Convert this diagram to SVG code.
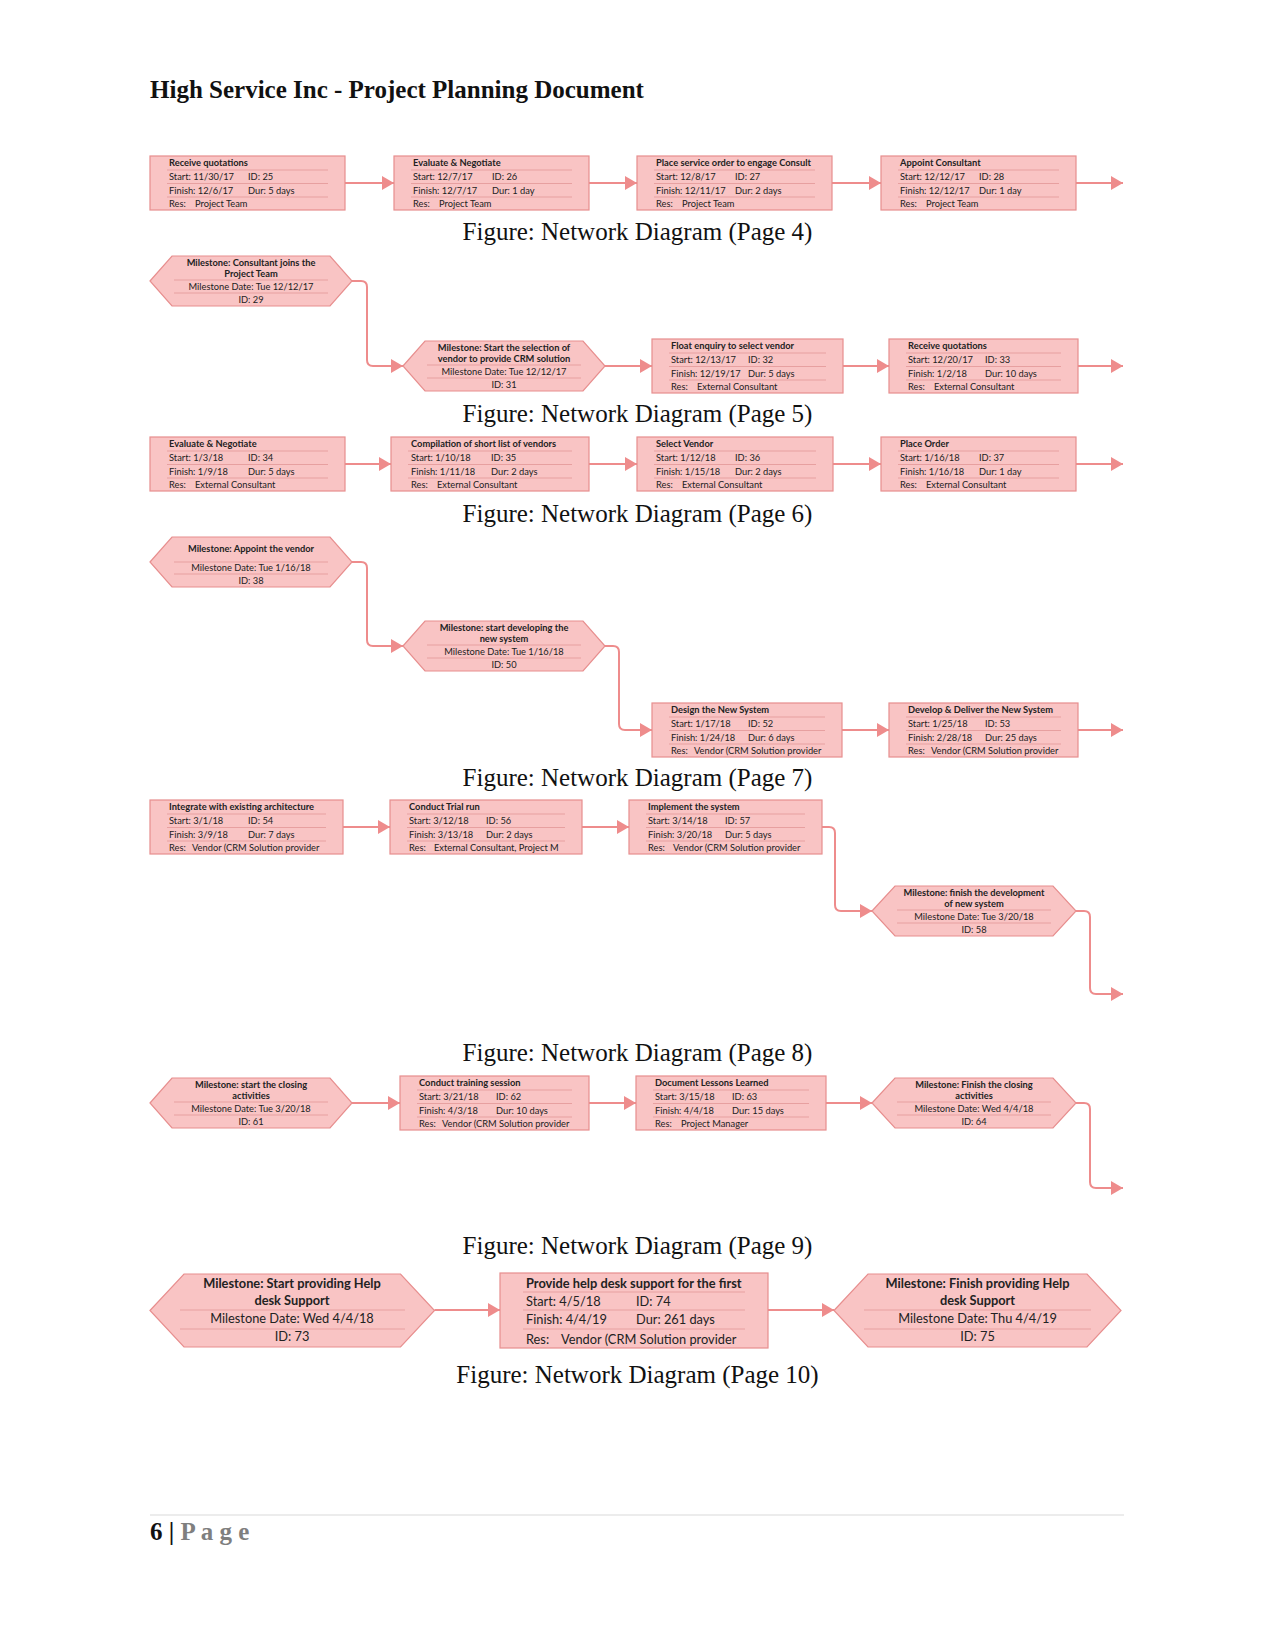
<svg xmlns="http://www.w3.org/2000/svg" width="1275" height="1650" viewBox="0 0 1275 1650">
<defs>
<marker id="ah" markerUnits="userSpaceOnUse" markerWidth="13" markerHeight="14" refX="12" refY="7" orient="auto">
<path d="M0,0 L12,7 L0,14 z" fill="#EE8C8C"/>
</marker>
<style>
.box{fill:#F9C4C4;stroke:#E78E8E;stroke-width:1.2}
.sep{fill:none;stroke:#E7A0A0;stroke-width:1}
.t{font-family:Lato,"Liberation Sans",sans-serif;font-size:9.3px;fill:#222}
.tl{font-family:Lato,"Liberation Sans",sans-serif;font-size:12.8px;fill:#222}
.b{font-weight:bold}
.m{text-anchor:middle}
.conn{fill:none;stroke:#EE8C8C;stroke-width:2;marker-end:url(#ah)}
.cap{font-family:"Liberation Serif",serif;font-size:25px;fill:#111;text-anchor:middle}
</style>
</defs>
<rect width="1275" height="1650" fill="#fff"/>
<text x="150" y="98" font-family="Liberation Serif,serif" font-size="25" font-weight="bold" fill="#111">High Service Inc - Project Planning Document</text>

<g id="connectors">
<path class="conn" d="M345,183H394"/>
<path class="conn" d="M589,183H637"/>
<path class="conn" d="M832,183H881"/>
<path class="conn" d="M1076,183H1123"/>
<path class="conn" d="M352,281H361Q367,281 367,287V360Q367,366 373,366H403"/>
<path class="conn" d="M605,366H652"/>
<path class="conn" d="M843,366H889"/>
<path class="conn" d="M1078,366H1123"/>
<path class="conn" d="M345,464H391"/>
<path class="conn" d="M589,464H637"/>
<path class="conn" d="M833,464H881"/>
<path class="conn" d="M1076,464H1123"/>
<path class="conn" d="M352,562H361Q367,562 367,568V640Q367,646 373,646H403"/>
<path class="conn" d="M605,646H613Q619,646 619,652V724Q619,730 625,730H652"/>
<path class="conn" d="M842,730H889"/>
<path class="conn" d="M1078,730H1123"/>
<path class="conn" d="M343,827H390"/>
<path class="conn" d="M582,827H629"/>
<path class="conn" d="M822,827H829Q835,827 835,833V905Q835,911 841,911H872"/>
<path class="conn" d="M1076,911H1084Q1090,911 1090,917V988Q1090,994 1096,994H1123"/>
<path class="conn" d="M352,1103H400"/>
<path class="conn" d="M589,1103H636"/>
<path class="conn" d="M826,1103H872"/>
<path class="conn" d="M1076,1103H1084Q1090,1103 1090,1109V1182Q1090,1188 1096,1188H1123"/>
<path class="conn" d="M434.5,1310H500"/>
<path class="conn" d="M768,1310H834"/>
</g>

<!-- Page 4 -->
<g id="n25" transform="translate(150,156)">
<rect class="box" width="195" height="54"/>
<path class="sep" d="M17,14H178M17,27.5H178M17,41H178"/>
<text class="t b" x="19" y="10">Receive quotations</text>
<text class="t" x="19" y="24">Start: 11/30/17</text><text class="t" x="98" y="24">ID: 25</text>
<text class="t" x="19" y="37.5">Finish: 12/6/17</text><text class="t" x="98" y="37.5">Dur: 5 days</text>
<text class="t" x="19" y="51">Res:</text><text class="t" x="45" y="51">Project Team</text>
</g>
<g id="n26" transform="translate(394,156)">
<rect class="box" width="195" height="54"/>
<path class="sep" d="M17,14H178M17,27.5H178M17,41H178"/>
<text class="t b" x="19" y="10">Evaluate &amp; Negotiate</text>
<text class="t" x="19" y="24">Start: 12/7/17</text><text class="t" x="98" y="24">ID: 26</text>
<text class="t" x="19" y="37.5">Finish: 12/7/17</text><text class="t" x="98" y="37.5">Dur: 1 day</text>
<text class="t" x="19" y="51">Res:</text><text class="t" x="45" y="51">Project Team</text>
</g>
<g id="n27" transform="translate(637,156)">
<rect class="box" width="195" height="54"/>
<path class="sep" d="M17,14H178M17,27.5H178M17,41H178"/>
<text class="t b" x="19" y="10">Place service order to engage Consult</text>
<text class="t" x="19" y="24">Start: 12/8/17</text><text class="t" x="98" y="24">ID: 27</text>
<text class="t" x="19" y="37.5">Finish: 12/11/17</text><text class="t" x="98" y="37.5">Dur: 2 days</text>
<text class="t" x="19" y="51">Res:</text><text class="t" x="45" y="51">Project Team</text>
</g>
<g id="n28" transform="translate(881,156)">
<rect class="box" width="195" height="54"/>
<path class="sep" d="M17,14H178M17,27.5H178M17,41H178"/>
<text class="t b" x="19" y="10">Appoint Consultant</text>
<text class="t" x="19" y="24">Start: 12/12/17</text><text class="t" x="98" y="24">ID: 28</text>
<text class="t" x="19" y="37.5">Finish: 12/12/17</text><text class="t" x="98" y="37.5">Dur: 1 day</text>
<text class="t" x="19" y="51">Res:</text><text class="t" x="45" y="51">Project Team</text>
</g>
<text class="cap" x="637.5" y="240">Figure: Network Diagram (Page 4)</text>

<!-- Page 5 -->
<g id="n29" transform="translate(150,256)">
<polygon class="box" points="0,25 22,0 180,0 202,25 180,50 22,50"/>
<path class="sep" d="M24,24H178M24,37H178"/>
<text class="t b m" x="101" y="9.5">Milestone: Consultant joins the</text>
<text class="t b m" x="101" y="21">Project Team</text>
<text class="t m" x="101" y="33.5">Milestone Date: Tue 12/12/17</text>
<text class="t m" x="101" y="46.5">ID: 29</text>
</g>
<g id="n31" transform="translate(403,341)">
<polygon class="box" points="0,25 22,0 180,0 202,25 180,50 22,50"/>
<path class="sep" d="M24,24H178M24,37H178"/>
<text class="t b m" x="101" y="9.5">Milestone: Start the selection of</text>
<text class="t b m" x="101" y="21">vendor to provide CRM solution</text>
<text class="t m" x="101" y="33.5">Milestone Date: Tue 12/12/17</text>
<text class="t m" x="101" y="46.5">ID: 31</text>
</g>
<g id="n32" transform="translate(652,339)">
<rect class="box" width="191" height="54"/>
<path class="sep" d="M17,14H174M17,27.5H174M17,41H174"/>
<text class="t b" x="19" y="10">Float enquiry to select vendor</text>
<text class="t" x="19" y="24">Start: 12/13/17</text><text class="t" x="96" y="24">ID: 32</text>
<text class="t" x="19" y="37.5">Finish: 12/19/17</text><text class="t" x="96" y="37.5">Dur: 5 days</text>
<text class="t" x="19" y="51">Res:</text><text class="t" x="45" y="51">External Consultant</text>
</g>
<g id="n33" transform="translate(889,339)">
<rect class="box" width="189" height="54"/>
<path class="sep" d="M17,14H172M17,27.5H172M17,41H172"/>
<text class="t b" x="19" y="10">Receive quotations</text>
<text class="t" x="19" y="24">Start: 12/20/17</text><text class="t" x="96" y="24">ID: 33</text>
<text class="t" x="19" y="37.5">Finish: 1/2/18</text><text class="t" x="96" y="37.5">Dur: 10 days</text>
<text class="t" x="19" y="51">Res:</text><text class="t" x="45" y="51">External Consultant</text>
</g>
<text class="cap" x="637.5" y="422">Figure: Network Diagram (Page 5)</text>

<!-- Page 6 -->
<g id="n34" transform="translate(150,437)">
<rect class="box" width="195" height="54"/>
<path class="sep" d="M17,14H178M17,27.5H178M17,41H178"/>
<text class="t b" x="19" y="10">Evaluate &amp; Negotiate</text>
<text class="t" x="19" y="24">Start: 1/3/18</text><text class="t" x="98" y="24">ID: 34</text>
<text class="t" x="19" y="37.5">Finish: 1/9/18</text><text class="t" x="98" y="37.5">Dur: 5 days</text>
<text class="t" x="19" y="51">Res:</text><text class="t" x="45" y="51">External Consultant</text>
</g>
<g id="n35" transform="translate(391,437)">
<rect class="box" width="198" height="54"/>
<path class="sep" d="M17,14H181M17,27.5H181M17,41H181"/>
<text class="t b" x="20" y="10">Compilation of short list of vendors</text>
<text class="t" x="20" y="24">Start: 1/10/18</text><text class="t" x="100" y="24">ID: 35</text>
<text class="t" x="20" y="37.5">Finish: 1/11/18</text><text class="t" x="100" y="37.5">Dur: 2 days</text>
<text class="t" x="20" y="51">Res:</text><text class="t" x="46" y="51">External Consultant</text>
</g>
<g id="n36" transform="translate(637,437)">
<rect class="box" width="196" height="54"/>
<path class="sep" d="M17,14H179M17,27.5H179M17,41H179"/>
<text class="t b" x="19" y="10">Select Vendor</text>
<text class="t" x="19" y="24">Start: 1/12/18</text><text class="t" x="98" y="24">ID: 36</text>
<text class="t" x="19" y="37.5">Finish: 1/15/18</text><text class="t" x="98" y="37.5">Dur: 2 days</text>
<text class="t" x="19" y="51">Res:</text><text class="t" x="45" y="51">External Consultant</text>
</g>
<g id="n37" transform="translate(881,437)">
<rect class="box" width="195" height="54"/>
<path class="sep" d="M17,14H178M17,27.5H178M17,41H178"/>
<text class="t b" x="19" y="10">Place Order</text>
<text class="t" x="19" y="24">Start: 1/16/18</text><text class="t" x="98" y="24">ID: 37</text>
<text class="t" x="19" y="37.5">Finish: 1/16/18</text><text class="t" x="98" y="37.5">Dur: 1 day</text>
<text class="t" x="19" y="51">Res:</text><text class="t" x="45" y="51">External Consultant</text>
</g>
<text class="cap" x="637.5" y="522">Figure: Network Diagram (Page 6)</text>

<!-- Page 7 -->
<g id="n38" transform="translate(150,537)">
<polygon class="box" points="0,25 22,0 180,0 202,25 180,50 22,50"/>
<path class="sep" d="M24,25H178M24,37H178"/>
<text class="t b m" x="101" y="15">Milestone: Appoint the vendor</text>
<text class="t m" x="101" y="34">Milestone Date: Tue 1/16/18</text>
<text class="t m" x="101" y="47">ID: 38</text>
</g>
<g id="n50" transform="translate(403,621)">
<polygon class="box" points="0,25 22,0 180,0 202,25 180,50 22,50"/>
<path class="sep" d="M24,24H178M24,37H178"/>
<text class="t b m" x="101" y="9.5">Milestone: start developing the</text>
<text class="t b m" x="101" y="21">new system</text>
<text class="t m" x="101" y="33.5">Milestone Date: Tue 1/16/18</text>
<text class="t m" x="101" y="46.5">ID: 50</text>
</g>
<g id="n52" transform="translate(652,703)">
<rect class="box" width="190" height="54"/>
<path class="sep" d="M17,14H173M17,27.5H173M17,41H173"/>
<text class="t b" x="19" y="10">Design the New System</text>
<text class="t" x="19" y="24">Start: 1/17/18</text><text class="t" x="96" y="24">ID: 52</text>
<text class="t" x="19" y="37.5">Finish: 1/24/18</text><text class="t" x="96" y="37.5">Dur: 6 days</text>
<text class="t" x="19" y="51">Res:</text><text class="t" x="42" y="51">Vendor (CRM Solution provider</text>
</g>
<g id="n53" transform="translate(889,703)">
<rect class="box" width="189" height="54"/>
<path class="sep" d="M17,14H172M17,27.5H172M17,41H172"/>
<text class="t b" x="19" y="10">Develop &amp; Deliver the New System</text>
<text class="t" x="19" y="24">Start: 1/25/18</text><text class="t" x="96" y="24">ID: 53</text>
<text class="t" x="19" y="37.5">Finish: 2/28/18</text><text class="t" x="96" y="37.5">Dur: 25 days</text>
<text class="t" x="19" y="51">Res:</text><text class="t" x="42" y="51">Vendor (CRM Solution provider</text>
</g>
<text class="cap" x="637.5" y="786">Figure: Network Diagram (Page 7)</text>

<!-- Page 8 -->
<g id="n54" transform="translate(150,800)">
<rect class="box" width="193" height="54"/>
<path class="sep" d="M17,14H176M17,27.5H176M17,41H176"/>
<text class="t b" x="19" y="10">Integrate with existing architecture</text>
<text class="t" x="19" y="24">Start: 3/1/18</text><text class="t" x="98" y="24">ID: 54</text>
<text class="t" x="19" y="37.5">Finish: 3/9/18</text><text class="t" x="98" y="37.5">Dur: 7 days</text>
<text class="t" x="19" y="51">Res:</text><text class="t" x="42" y="51">Vendor (CRM Solution provider</text>
</g>
<g id="n56" transform="translate(390,800)">
<rect class="box" width="192" height="54"/>
<path class="sep" d="M17,14H175M17,27.5H175M17,41H175"/>
<text class="t b" x="19" y="10">Conduct Trial run</text>
<text class="t" x="19" y="24">Start: 3/12/18</text><text class="t" x="96" y="24">ID: 56</text>
<text class="t" x="19" y="37.5">Finish: 3/13/18</text><text class="t" x="96" y="37.5">Dur: 2 days</text>
<text class="t" x="19" y="51">Res:</text><text class="t" x="44" y="51">External Consultant, Project M</text>
</g>
<g id="n57" transform="translate(629,800)">
<rect class="box" width="193" height="54"/>
<path class="sep" d="M17,14H176M17,27.5H176M17,41H176"/>
<text class="t b" x="19" y="10">Implement the system</text>
<text class="t" x="19" y="24">Start: 3/14/18</text><text class="t" x="96" y="24">ID: 57</text>
<text class="t" x="19" y="37.5">Finish: 3/20/18</text><text class="t" x="96" y="37.5">Dur: 5 days</text>
<text class="t" x="19" y="51">Res:</text><text class="t" x="44" y="51">Vendor (CRM Solution provider</text>
</g>
<g id="n58" transform="translate(872,886)">
<polygon class="box" points="0,25 23,0 181,0 204,25 181,50 23,50"/>
<path class="sep" d="M25,24H179M25,37H179"/>
<text class="t b m" x="102" y="9.5">Milestone: finish the development</text>
<text class="t b m" x="102" y="21">of new system</text>
<text class="t m" x="102" y="33.5">Milestone Date: Tue 3/20/18</text>
<text class="t m" x="102" y="46.5">ID: 58</text>
</g>
<text class="cap" x="637.5" y="1061">Figure: Network Diagram (Page 8)</text>

<!-- Page 9 -->
<g id="n61" transform="translate(150,1078)">
<polygon class="box" points="0,25 22,0 180,0 202,25 180,50 22,50"/>
<path class="sep" d="M24,24H178M24,37H178"/>
<text class="t b m" x="101" y="9.5">Milestone: start the closing</text>
<text class="t b m" x="101" y="21">activities</text>
<text class="t m" x="101" y="33.5">Milestone Date: Tue 3/20/18</text>
<text class="t m" x="101" y="46.5">ID: 61</text>
</g>
<g id="n62" transform="translate(400,1076)">
<rect class="box" width="189" height="54"/>
<path class="sep" d="M17,14H172M17,27.5H172M17,41H172"/>
<text class="t b" x="19" y="10">Conduct training session</text>
<text class="t" x="19" y="24">Start: 3/21/18</text><text class="t" x="96" y="24">ID: 62</text>
<text class="t" x="19" y="37.5">Finish: 4/3/18</text><text class="t" x="96" y="37.5">Dur: 10 days</text>
<text class="t" x="19" y="51">Res:</text><text class="t" x="42" y="51">Vendor (CRM Solution provider</text>
</g>
<g id="n63" transform="translate(636,1076)">
<rect class="box" width="190" height="54"/>
<path class="sep" d="M17,14H173M17,27.5H173M17,41H173"/>
<text class="t b" x="19" y="10">Document Lessons Learned</text>
<text class="t" x="19" y="24">Start: 3/15/18</text><text class="t" x="96" y="24">ID: 63</text>
<text class="t" x="19" y="37.5">Finish: 4/4/18</text><text class="t" x="96" y="37.5">Dur: 15 days</text>
<text class="t" x="19" y="51">Res:</text><text class="t" x="45" y="51">Project Manager</text>
</g>
<g id="n64" transform="translate(872,1078)">
<polygon class="box" points="0,25 23,0 181,0 204,25 181,50 23,50"/>
<path class="sep" d="M25,24H179M25,37H179"/>
<text class="t b m" x="102" y="9.5">Milestone: Finish the closing</text>
<text class="t b m" x="102" y="21">activities</text>
<text class="t m" x="102" y="33.5">Milestone Date: Wed 4/4/18</text>
<text class="t m" x="102" y="46.5">ID: 64</text>
</g>
<text class="cap" x="637.5" y="1254">Figure: Network Diagram (Page 9)</text>

<!-- Page 10 -->
<g id="n73" transform="translate(150,1274)">
<polygon class="box" points="0,36.5 34,0 250.5,0 284.5,36.5 250.5,73 34,73"/>
<path class="sep" d="M30,36H255M30,55H255"/>
<text class="tl b m" x="142" y="13.5">Milestone: Start providing Help</text>
<text class="tl b m" x="142" y="30.5">desk Support</text>
<text class="tl m" x="142" y="49">Milestone Date: Wed 4/4/18</text>
<text class="tl m" x="142" y="67">ID: 73</text>
</g>
<g id="n74" transform="translate(500,1273)">
<rect class="box" width="268" height="75"/>
<path class="sep" d="M23,19H245M23,37H245M23,56H245"/>
<text class="tl b" x="26" y="14.5">Provide help desk support for the first</text>
<text class="tl" x="26" y="32.5">Start: 4/5/18</text><text class="tl" x="136" y="32.5">ID: 74</text>
<text class="tl" x="26" y="50.5">Finish: 4/4/19</text><text class="tl" x="136" y="50.5">Dur: 261 days</text>
<text class="tl" x="26" y="70.5">Res:</text><text class="tl" x="61" y="70.5">Vendor (CRM Solution provider</text>
</g>
<g id="n75" transform="translate(834,1274)">
<polygon class="box" points="0,36.5 34,0 253,0 287,36.5 253,73 34,73"/>
<path class="sep" d="M30,36H257M30,55H257"/>
<text class="tl b m" x="143.5" y="13.5">Milestone: Finish providing Help</text>
<text class="tl b m" x="143.5" y="30.5">desk Support</text>
<text class="tl m" x="143.5" y="49">Milestone Date: Thu 4/4/19</text>
<text class="tl m" x="143.5" y="67">ID: 75</text>
</g>
<text class="cap" x="637.5" y="1383">Figure: Network Diagram (Page 10)</text>

<!-- Footer -->
<line x1="150" y1="1515" x2="1124" y2="1515" stroke="#d9d9d9" stroke-width="1"/>
<text x="150" y="1540" font-family="Liberation Serif,serif" font-size="25" font-weight="bold" fill="#111">6 | <tspan fill="#7f7f7f">P a g e</tspan></text>
</svg>
